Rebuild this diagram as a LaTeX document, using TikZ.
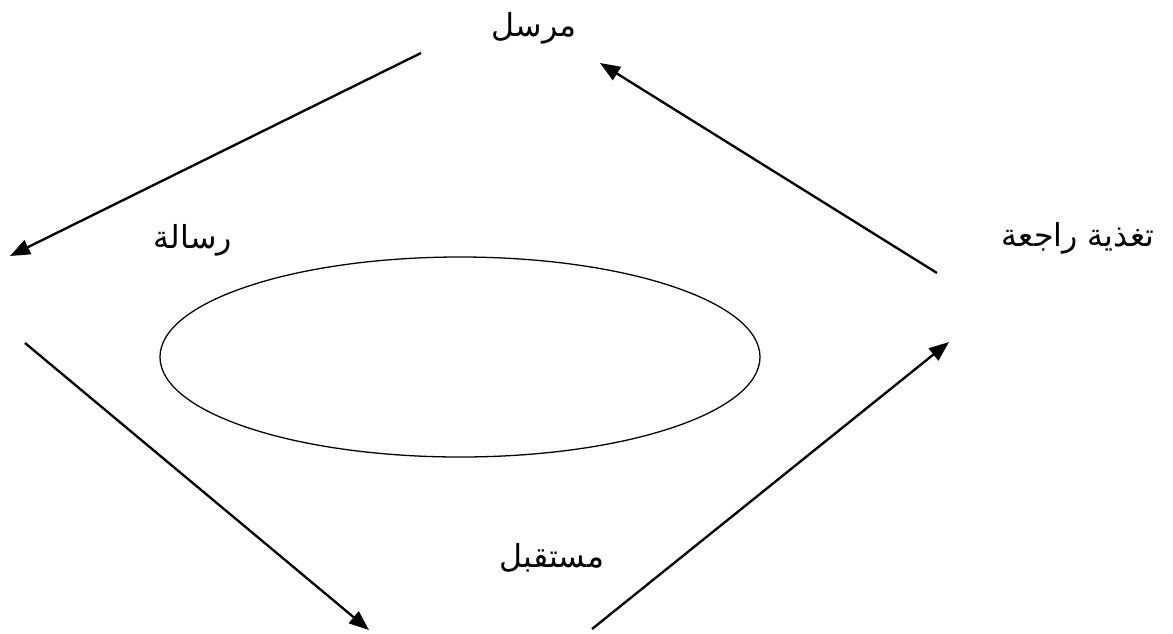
\documentclass[tikz,border=0pt]{standalone}
\usepackage{fontspec}
\usetikzlibrary{arrows.meta,shapes.geometric}
\newfontfamily\arabicfont[Script=Arabic]{DejaVu Sans}
\TeXXeTstate=1
\tikzset{
  label/.style={font=\arabicfont\fontsize{27}{32}\selectfont, inner sep=0pt},
  arrow/.style={-{Triangle[length=6mm, width=4.6mm]}, line width=2pt, draw=black},
  ring/.style={draw=black, line width=1.1pt, ellipse, minimum width=18cm, minimum height=6cm}
}
\begin{document}
\begin{tikzpicture}[x=0.03cm, y=-0.03cm]
  \useasboundingbox (0,0) rectangle (1173,633);
  % labels
  \node[label] (sender) at (534,28) {\beginR مرسل\endR};
  \node[label] (message) at (193,240) {\beginR رسالة\endR};
  \node[label] (feedback) at (1078,238) {\beginR تغذية راجعة\endR};
  \node[label] (receiver) at (552,558) {\beginR مستقبل\endR};
  % central ellipse
  \node[ring] (channel) at (460,357) {};
  % arrow ends
  \coordinate (a1) at (421,53);
  \coordinate (b1) at (10,256);
  \coordinate (a2) at (25,343);
  \coordinate (b2) at (369,630);
  \coordinate (a3) at (592,629);
  \coordinate (b3) at (949,342);
  \coordinate (a4) at (937,273);
  \coordinate (b4) at (600,63);

  \draw[arrow] (a1) -- (b1);
  \draw[arrow] (a2) -- (b2);
  \draw[arrow] (a3) -- (b3);
  \draw[arrow] (a4) -- (b4);
\end{tikzpicture}
\end{document}
